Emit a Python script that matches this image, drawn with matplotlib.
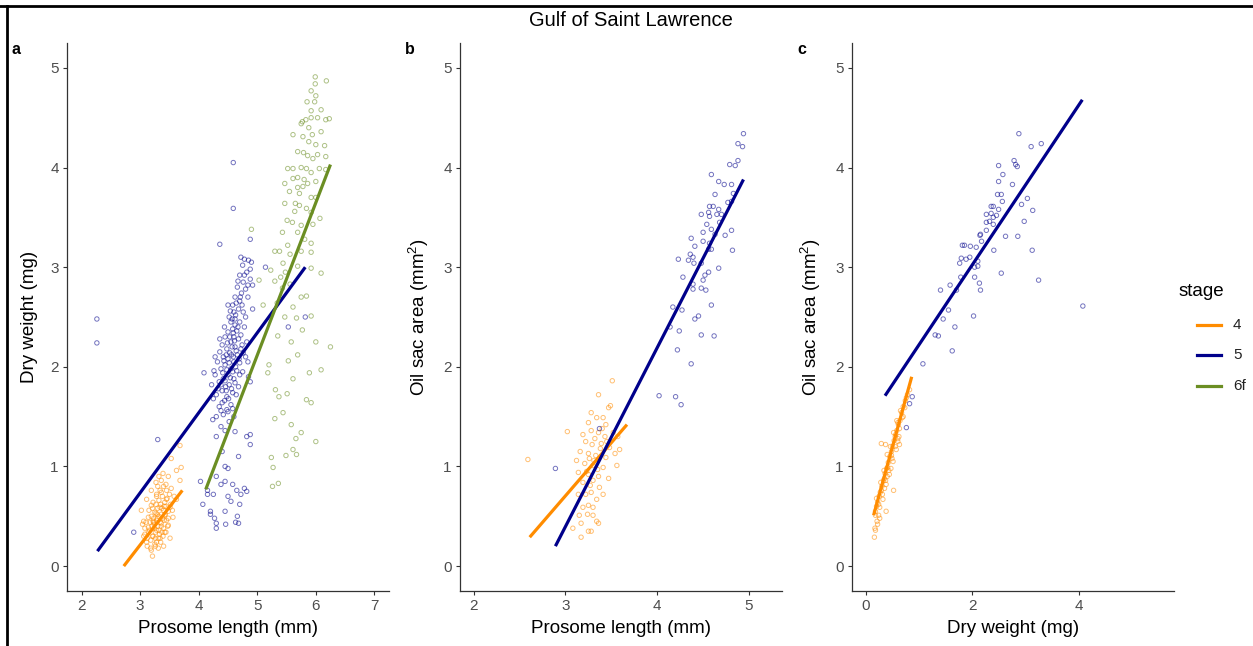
import numpy as np
import matplotlib
matplotlib.use('Agg')
import matplotlib.pyplot as plt
from matplotlib.lines import Line2D

plt.rcParams['font.family'] = ['Liberation Sans', 'DejaVu Sans']
plt.rcParams['mathtext.fontset'] = 'custom'
plt.rcParams['mathtext.rm'] = 'Liberation Sans'
plt.rcParams['mathtext.it'] = 'Liberation Sans'

stages = ['4', '5', '6f']
colors = {'4': '#FF8C00', '5': '#00008B', '6f': '#6B8E23'}

# panel a: prosome length (mm) vs dry weight (mg)
a_stage4 = [(3.68, 1.21), (3.53, 1.08), (3.70, 0.99), (3.62, 0.96), (3.48, 0.90), (3.39, 0.93),
            (3.32, 0.90), (3.68, 0.86), (3.27, 0.84), (3.44, 0.82), (3.53, 0.78), (3.19, 0.76),
            (3.36, 0.74), (3.28, 0.70), (3.45, 0.67), (3.11, 0.67), (3.62, 0.67), (3.02, 0.56),
            (3.19, 0.61), (3.34, 0.59), (3.51, 0.59), (3.27, 0.53), (3.42, 0.51), (3.14, 0.49),
            (3.56, 0.49), (3.06, 0.45), (3.22, 0.45), (3.36, 0.43), (3.48, 0.41), (3.14, 0.39),
            (3.28, 0.36), (3.42, 0.34), (3.08, 0.32), (3.21, 0.30), (3.34, 0.28), (3.51, 0.28),
            (3.11, 0.24), (3.25, 0.22), (3.40, 0.20), (3.19, 0.16), (3.31, 0.18), (3.21, 0.10),
            (3.20, 0.40), (3.24, 0.42), (3.28, 0.46), (3.32, 0.50), (3.36, 0.52), (3.40, 0.56),
            (3.44, 0.60), (3.30, 0.40), (3.34, 0.44), (3.38, 0.48), (3.26, 0.34), (3.22, 0.30),
            (3.18, 0.26), (3.42, 0.64), (3.46, 0.68), (3.35, 0.62), (3.30, 0.58), (3.25, 0.54),
            (3.40, 0.38), (3.45, 0.46), (3.48, 0.55), (3.33, 0.32), (3.28, 0.24), (3.37, 0.34),
            (3.23, 0.48), (3.17, 0.44), (3.14, 0.34), (3.12, 0.28), (3.38, 0.70), (3.32, 0.66),
            (3.27, 0.62), (3.50, 0.72), (3.52, 0.62), (3.41, 0.46), (3.36, 0.40), (3.29, 0.52),
            (3.21, 0.58), (3.19, 0.50), (3.43, 0.52), (3.47, 0.40), (3.31, 0.28), (3.26, 0.20),
            (3.35, 0.24), (3.39, 0.30), (3.44, 0.34), (3.24, 0.38), (3.16, 0.36), (3.10, 0.44),
            (3.08, 0.38), (3.34, 0.76), (3.28, 0.72), (3.40, 0.80), (3.45, 0.76), (3.36, 0.86),
            (3.30, 0.80), (3.22, 0.64), (3.15, 0.56), (3.48, 0.48), (3.55, 0.56), (3.58, 0.70),
            (3.12, 0.20), (3.18, 0.18), (3.06, 0.30), (3.04, 0.42), (3.26, 0.28), (3.32, 0.36),
            (3.41, 0.60), (3.37, 0.58), (3.29, 0.48), (3.23, 0.44)]
a_stage5 = [(2.26, 2.48), (2.26, 2.24), (3.30, 1.27), (2.89, 0.34), (4.59, 4.05), (4.59, 3.59),
            (4.36, 3.23), (4.09, 1.94), (5.14, 3.00), (4.88, 3.28), (5.53, 2.40), (5.82, 2.50),
            (4.72, 3.10), (4.78, 3.08), (4.85, 3.07), (4.75, 3.02), (4.82, 2.95), (4.70, 2.92),
            (4.88, 2.88), (4.76, 2.85), (4.66, 2.80), (4.80, 2.78), (4.92, 2.82), (4.73, 2.74),
            (4.62, 2.70), (4.70, 2.66), (4.84, 2.70), (4.58, 2.62), (4.68, 2.58), (4.76, 2.55),
            (4.60, 2.55), (4.52, 2.50), (4.92, 2.58), (4.88, 2.98), (4.55, 2.45), (4.62, 2.42),
            (4.70, 2.45), (4.58, 2.38), (4.65, 2.36), (4.50, 2.35), (4.72, 2.32), (4.78, 2.40),
            (4.45, 2.30), (4.60, 2.30), (4.68, 2.28), (4.55, 2.25), (4.82, 2.25), (4.40, 2.22),
            (4.62, 2.20), (4.72, 2.18), (4.48, 2.18), (4.36, 2.15), (4.56, 2.12), (4.66, 2.12),
            (4.42, 2.10), (4.80, 2.10), (4.50, 2.08), (4.60, 2.05), (4.70, 2.04), (4.32, 2.05),
            (4.45, 2.02), (4.55, 1.98), (4.38, 1.98), (4.65, 1.96), (4.75, 1.95), (4.28, 1.92),
            (4.50, 1.92), (4.42, 1.88), (4.60, 1.88), (4.85, 1.90), (4.35, 1.85), (4.52, 1.82),
            (4.46, 1.80), (4.68, 1.80), (4.22, 1.82), (4.40, 1.76), (4.58, 1.74), (4.30, 1.72),
            (4.48, 1.70), (4.88, 1.85), (4.25, 1.68), (4.40, 1.64), (4.55, 1.62), (4.35, 1.60),
            (4.48, 1.57), (4.50, 1.55), (4.42, 1.52), (4.30, 1.50), (4.60, 1.50), (4.24, 1.47),
            (4.52, 1.45), (4.38, 1.40), (4.45, 1.36), (4.62, 1.35), (4.30, 1.30), (4.88, 1.32),
            (4.82, 1.30), (4.88, 1.22), (4.68, 1.10), (4.40, 1.15), (4.50, 0.98), (4.45, 1.00),
            (4.30, 0.90), (4.03, 0.85), (4.15, 0.76), (4.25, 0.72), (4.38, 0.82), (4.45, 0.85),
            (4.58, 0.82), (4.65, 0.76), (4.78, 0.78), (4.72, 0.72), (4.82, 0.75), (4.07, 0.62),
            (4.20, 0.55), (4.27, 0.48), (4.30, 0.43), (4.30, 0.38), (4.20, 0.52), (4.46, 0.42),
            (4.63, 0.44), (4.66, 0.50), (4.70, 0.62), (4.55, 0.65), (4.68, 0.43), (4.50, 0.70),
            (4.45, 0.55), (4.15, 0.72), (4.57, 2.48), (4.63, 2.52), (4.67, 2.40), (4.53, 2.30),
            (4.59, 2.34), (4.61, 2.26), (4.49, 2.24), (4.57, 2.20), (4.64, 2.16), (4.53, 2.14),
            (4.47, 2.12), (4.59, 2.10), (4.69, 2.08), (4.43, 2.06), (4.52, 2.04), (4.63, 2.00),
            (4.48, 1.97), (4.58, 1.95), (4.41, 1.94), (4.70, 1.92), (4.54, 1.89), (4.45, 1.86),
            (4.62, 1.84), (4.38, 1.82), (4.56, 1.78), (4.47, 1.76), (4.64, 1.72), (4.33, 1.78),
            (4.51, 1.68), (4.44, 1.66), (4.58, 1.58), (4.38, 1.56), (4.74, 2.22), (4.76, 2.14),
            (4.84, 2.05), (4.74, 2.62), (4.80, 2.50), (4.64, 2.64), (4.71, 2.70), (4.67, 2.86),
            (4.78, 2.92), (4.84, 2.82), (4.90, 3.05), (4.62, 2.48), (4.54, 2.56), (4.50, 2.62),
            (4.44, 2.40), (4.36, 2.28), (4.28, 2.10), (4.26, 1.96)]
a_stage6f = [(5.99, 4.91), (5.99, 4.84), (6.18, 4.87), (5.92, 4.77), (6.00, 4.72), (5.98, 4.66),
             (5.85, 4.66), (5.92, 4.57), (6.09, 4.58), (6.23, 4.49), (6.17, 4.48), (6.03, 4.50),
             (5.92, 4.50), (5.83, 4.48), (5.77, 4.46), (5.75, 4.44), (6.09, 4.36), (5.94, 4.33),
             (5.61, 4.33), (5.78, 4.31), (5.88, 4.26), (6.00, 4.23), (6.15, 4.22), (5.69, 4.16),
             (5.79, 4.15), (5.86, 4.12), (5.95, 4.09), (6.03, 4.13), (6.17, 4.11), (5.52, 3.99),
             (5.61, 3.99), (5.75, 4.00), (5.84, 3.99), (5.92, 3.95), (6.06, 3.99), (6.17, 3.98),
             (5.69, 3.90), (5.61, 3.89), (5.47, 3.84), (5.69, 3.80), (5.78, 3.81), (5.86, 3.84),
             (6.00, 3.86), (5.55, 3.76), (5.72, 3.74), (5.92, 3.70), (6.00, 3.70), (5.47, 3.64),
             (5.65, 3.64), (5.72, 3.62), (5.84, 3.59), (5.92, 3.55), (5.51, 3.47), (5.60, 3.45),
             (5.75, 3.42), (5.95, 3.43), (6.07, 3.49), (5.43, 3.35), (5.69, 3.35), (5.81, 3.28),
             (5.92, 3.24), (5.30, 3.16), (5.38, 3.16), (5.56, 3.13), (5.75, 3.16), (5.92, 3.15),
             (6.09, 2.94), (5.44, 3.04), (5.23, 2.97), (5.48, 2.95), (5.69, 3.01), (5.92, 2.99),
             (5.03, 2.87), (5.30, 2.86), (5.43, 2.79), (5.56, 2.83), (5.75, 2.70), (5.84, 2.71),
             (5.61, 2.60), (5.47, 2.50), (5.67, 2.49), (5.92, 2.51), (5.35, 2.31), (5.58, 2.25),
             (5.77, 2.37), (6.00, 2.25), (6.25, 2.20), (5.20, 2.02), (5.18, 1.94), (5.53, 2.06),
             (5.69, 2.12), (5.89, 1.94), (6.09, 1.97), (5.61, 1.88), (5.31, 1.77), (5.37, 1.70),
             (5.51, 1.73), (5.84, 1.67), (5.92, 1.64), (5.30, 1.48), (5.44, 1.54), (5.58, 1.42),
             (5.75, 1.34), (6.00, 1.25), (5.66, 1.28), (5.24, 1.09), (5.27, 0.99), (5.49, 1.11),
             (5.61, 1.17), (5.67, 1.12), (5.26, 0.80), (5.36, 0.83), (4.90, 3.38), (5.10, 2.62),
             (5.34, 2.64), (5.40, 2.90), (5.52, 3.22), (5.64, 3.56), (5.80, 3.88), (5.88, 4.40)]

# panel b: prosome length (mm) vs oil sac area (mm2)
b_stage4 = [(2.59, 1.07), (3.02, 1.35), (3.51, 1.86), (3.36, 1.72), (3.49, 1.61), (3.47, 1.59),
            (3.28, 1.54), (3.34, 1.49), (3.41, 1.49), (3.44, 1.42), (3.25, 1.44), (3.19, 1.32),
            (3.28, 1.36), (3.36, 1.34), (3.43, 1.30), (3.52, 1.34), (3.57, 1.30), (3.22, 1.25),
            (3.29, 1.22), (3.39, 1.23), (3.48, 1.19), (3.59, 1.17), (3.16, 1.15), (3.25, 1.13),
            (3.33, 1.11), (3.44, 1.09), (3.54, 1.13), (3.12, 1.06), (3.21, 1.03), (3.30, 1.01),
            (3.41, 0.99), (3.56, 1.01), (3.14, 0.94), (3.25, 0.92), (3.36, 0.90), (3.47, 0.88),
            (3.19, 0.84), (3.27, 0.81), (3.37, 0.79), (3.28, 0.74), (3.22, 0.72), (3.41, 0.72),
            (3.14, 0.72), (3.34, 0.67), (3.25, 0.61), (3.30, 0.59), (3.19, 0.59), (3.15, 0.51),
            (3.24, 0.52), (3.30, 0.51), (3.17, 0.43), (3.34, 0.45), (3.36, 0.43), (3.08, 0.38),
            (3.25, 0.35), (3.28, 0.35), (3.17, 0.29), (3.32, 1.28), (3.38, 1.18), (3.31, 1.06),
            (3.35, 0.97), (3.26, 1.08), (3.40, 1.38), (3.30, 0.86), (3.45, 1.25), (3.23, 0.95)]
b_stage5 = [(4.94, 4.34), (4.88, 4.24), (4.93, 4.21), (4.88, 4.07), (4.85, 4.02), (4.79, 4.03),
            (4.59, 3.93), (4.67, 3.86), (4.73, 3.83), (4.81, 3.83), (4.63, 3.73), (4.83, 3.74),
            (4.81, 3.66), (4.77, 3.65), (4.57, 3.61), (4.61, 3.61), (4.67, 3.58), (4.56, 3.55),
            (4.48, 3.53), (4.57, 3.51), (4.65, 3.53), (4.70, 3.53), (4.68, 3.45), (4.54, 3.43),
            (4.59, 3.38), (4.50, 3.35), (4.63, 3.33), (4.74, 3.32), (4.81, 3.37), (4.37, 3.29),
            (4.50, 3.26), (4.57, 3.24), (4.41, 3.21), (4.56, 3.18), (4.59, 3.18), (4.82, 3.17),
            (4.36, 3.13), (4.39, 3.10), (4.23, 3.08), (4.34, 3.07), (4.40, 3.04), (4.48, 3.04),
            (4.67, 2.99), (4.56, 2.95), (4.52, 2.92), (4.28, 2.90), (4.50, 2.87), (4.39, 2.83),
            (4.48, 2.79), (4.53, 2.77), (4.39, 2.78), (4.59, 2.62), (4.17, 2.60), (4.27, 2.57),
            (4.45, 2.51), (4.41, 2.48), (4.14, 2.40), (4.24, 2.36), (4.48, 2.32), (4.62, 2.31),
            (4.22, 2.17), (4.37, 2.03), (4.02, 1.71), (4.20, 1.70), (4.26, 1.62), (2.89, 0.98),
            (3.37, 1.38)]

# panel c: dry weight (mg) vs oil sac area (mm2)
c_stage4 = [(0.16, 0.29), (0.18, 0.36), (0.21, 0.45), (0.24, 0.51), (0.26, 0.59), (0.32, 0.67),
            (0.29, 0.76), (0.38, 0.82), (0.35, 0.88), (0.44, 0.92), (0.41, 0.99), (0.51, 1.05),
            (0.48, 1.11), (0.57, 1.17), (0.29, 1.23), (0.37, 1.22), (0.60, 1.25), (0.56, 1.32),
            (0.63, 1.38), (0.60, 1.44), (0.68, 1.49), (0.63, 1.22), (0.73, 1.59), (0.76, 1.69),
            (0.82, 1.77), (0.52, 0.76), (0.38, 0.55), (0.18, 0.51), (0.18, 0.55), (0.20, 0.60),
            (0.22, 0.64), (0.25, 0.70), (0.27, 0.74), (0.30, 0.80), (0.33, 0.86), (0.36, 0.93),
            (0.39, 0.98), (0.42, 1.04), (0.45, 1.10), (0.48, 1.15), (0.50, 1.20), (0.53, 1.26),
            (0.55, 1.30), (0.58, 1.36), (0.61, 1.42), (0.64, 1.46), (0.67, 1.54), (0.70, 1.60),
            (0.74, 1.66), (0.78, 1.72), (0.20, 0.68), (0.24, 0.62), (0.28, 0.84), (0.31, 0.72),
            (0.34, 0.96), (0.37, 0.86), (0.40, 1.12), (0.43, 0.96), (0.46, 1.20), (0.49, 1.08),
            (0.52, 1.34), (0.55, 1.20), (0.58, 1.46), (0.62, 1.30), (0.65, 1.56), (0.22, 0.42),
            (0.26, 0.48), (0.17, 0.38), (0.47, 0.98), (0.40, 0.90), (0.35, 0.78), (0.60, 1.28),
            (0.70, 1.50)]
c_stage5 = [(2.87, 4.34), (3.10, 4.21), (3.29, 4.24), (2.78, 4.07), (2.81, 4.03), (2.84, 4.01),
            (2.49, 4.02), (2.57, 3.93), (2.49, 3.86), (2.75, 3.83), (2.47, 3.73), (2.54, 3.73),
            (2.56, 3.66), (3.03, 3.69), (2.92, 3.63), (2.35, 3.61), (2.39, 3.61), (2.49, 3.58),
            (3.13, 3.57), (2.26, 3.53), (2.35, 3.54), (2.45, 3.52), (2.39, 3.50), (2.32, 3.46),
            (2.97, 3.46), (2.26, 3.45), (2.39, 3.43), (2.26, 3.37), (2.15, 3.33), (2.14, 3.32),
            (2.62, 3.31), (2.85, 3.31), (2.17, 3.26), (2.07, 3.20), (1.81, 3.22), (1.85, 3.22),
            (1.96, 3.21), (2.40, 3.17), (3.12, 3.17), (1.79, 3.09), (1.88, 3.08), (1.95, 3.10),
            (2.10, 3.06), (1.76, 3.04), (2.04, 3.00), (2.10, 3.01), (2.54, 2.94), (1.78, 2.90),
            (2.04, 2.90), (2.13, 2.84), (3.24, 2.87), (1.40, 2.77), (1.70, 2.77), (2.15, 2.77),
            (1.58, 2.82), (1.55, 2.57), (1.45, 2.48), (1.67, 2.40), (2.02, 2.51), (1.30, 2.32),
            (1.36, 2.31), (1.62, 2.16), (1.07, 2.03), (4.07, 2.61), (0.87, 1.70), (0.82, 1.63),
            (0.76, 1.39)]

# fitted lines: (x start, x end, y start, y end)
a_fits = {'4': (2.72, 3.72, 0.00, 0.76), '5': (2.27, 5.82, 0.15, 3.00), '6f': (4.12, 6.25, 0.77, 4.03)}
b_fits = {'4': (2.61, 3.67, 0.29, 1.42), '5': (2.89, 4.94, 0.20, 3.88)}
c_fits = {'4': (0.145, 0.86, 0.51, 1.90), '5': (0.36, 4.06, 1.71, 4.68)}

x_ticks_a = [2, 3, 4, 5, 6, 7]
x_ticks_b = [2, 3, 4, 5]
x_ticks_c = [0, 2, 4]
y_ticks = [0, 1, 2, 3, 4, 5]

W, H = 1253, 646
fig = plt.figure(figsize=(W / 100, H / 100), dpi=100)


def px_axes(left, right, bottom, top):
    return fig.add_axes([left / W, 1 - bottom / H, (right - left) / W, (bottom - top) / H])


def style(ax, xlim, xticks, xlabel, ylabel):
    ax.set_xlim(*xlim)
    ax.set_ylim(-0.25, 5.25)
    ax.set_xticks(xticks)
    ax.set_yticks(y_ticks)
    for s in ['top', 'right']:
        ax.spines[s].set_visible(False)
    for s in ['left', 'bottom']:
        ax.spines[s].set_color('#333333')
        ax.spines[s].set_linewidth(0.9)
    ax.tick_params(direction='out', length=3, width=0.8, color='#333333',
                   labelcolor='#4D4D4D', labelsize=11, pad=3)
    ax.set_xlabel(xlabel, fontsize=13.5, labelpad=5)
    ax.set_ylabel(ylabel, fontsize=13.5, labelpad=9)


def draw(ax, groups, fits):
    for st, pts in groups.items():
        pts = np.array(pts)
        ax.scatter(pts[:, 0], pts[:, 1], s=10, facecolors='none', edgecolors=colors[st],
                   linewidths=0.7, alpha=0.55, zorder=2)
    for st, (x0, x1, y0, y1) in fits.items():
        ax.plot([x0, x1], [y0, y1], color=colors[st], lw=2.3, solid_capstyle='butt', zorder=3)


ax_a = px_axes(67, 389, 591, 43)
draw(ax_a, {'4': a_stage4, '5': a_stage5, '6f': a_stage6f}, a_fits)
style(ax_a, (1.75, 7.25), x_ticks_a, 'Prosome length (mm)', 'Dry weight (mg)')

ax_b = px_axes(460, 782, 591, 43)
draw(ax_b, {'4': b_stage4, '5': b_stage5}, b_fits)
style(ax_b, (1.85, 5.36), x_ticks_b, 'Prosome length (mm)', 'Oil sac area (mm$^2$)')

ax_c = px_axes(852, 1174, 591, 43)
draw(ax_c, {'4': c_stage4, '5': c_stage5}, c_fits)
style(ax_c, (-0.26, 5.78), x_ticks_c, 'Dry weight (mg)', 'Oil sac area (mm$^2$)')

fig.text(631 / W, 1 - 20 / H, 'Gulf of Saint Lawrence', ha='center', va='center', fontsize=14.5)
for lab, x in [('a', 12), ('b', 405), ('c', 797)]:
    fig.text(x / W, 1 - 49 / H, lab, ha='left', va='center', fontsize=11.5, fontweight='bold')

# legend
fig.text(1179 / W, 1 - 292 / H, 'stage', ha='left', va='center', fontsize=13.5)
for st, y in zip(stages, [325, 355, 386]):
    fig.add_artist(Line2D([1197 / W, 1221 / W], [1 - y / H, 1 - y / H], color=colors[st],
                          lw=2.3, transform=fig.transFigure))
    fig.text(1233 / W, 1 - y / H, st, ha='left', va='center', fontsize=11, color='#222222')

# outer frame (top and left edges)
fig.add_artist(Line2D([0, 1252 / W], [1 - 6 / H, 1 - 6 / H], color='black', lw=2,
                      transform=fig.transFigure))
fig.add_artist(Line2D([7 / W, 7 / W], [0, 1 - 6 / H], color='black', lw=2,
                      transform=fig.transFigure))

fig.savefig('out.png', dpi=100)
